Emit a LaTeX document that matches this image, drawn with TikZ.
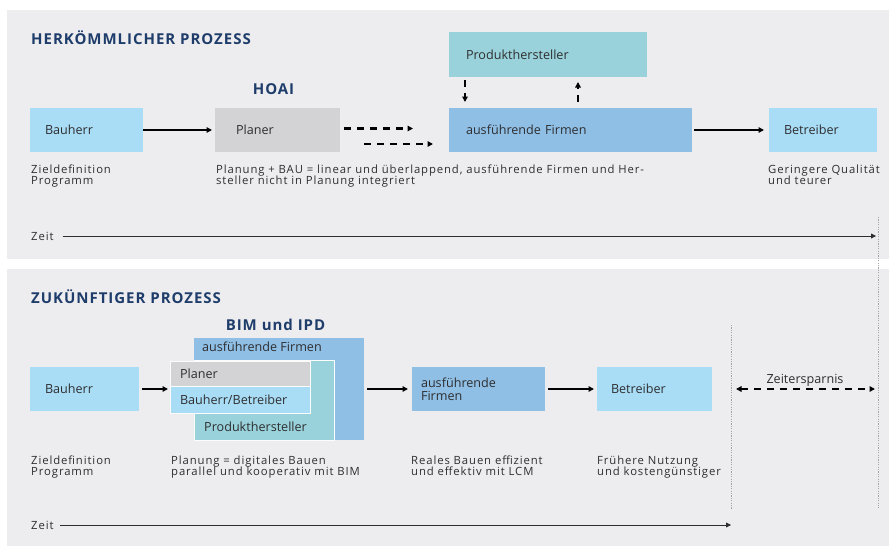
\documentclass[tikz,border=0pt]{standalone}
\usepackage{fontspec}
\setmainfont{Open Sans}
\newfontfamily\descfam[LetterSpace=8]{Open Sans}
\newfontfamily\titlefam[LetterSpace=6.5]{Open Sans}
\usetikzlibrary{arrows.meta,calc}

\definecolor{panel}{HTML}{EDEDEF}
\definecolor{lblue}{HTML}{A9DDF6}
\definecolor{mblue}{HTML}{8FBFE5}
\definecolor{teal}{HTML}{99D2DA}
\definecolor{lgray}{HTML}{D3D3D5}
\definecolor{titleblue}{HTML}{1F3D6B}
\definecolor{txt}{HTML}{2E2E30}

\newcommand{\bodyfont}{\descfam\fontsize{11.3}{10.5}\selectfont\lineskiplimit=-20pt\relax}
\newcommand{\boxfont}{\fontsize{12.6}{13}\selectfont}

\tikzset{
  bx/.style={anchor=north west, align=left, inner ysep=0pt, outer sep=0pt,
    text=txt, font=\boxfont},
  desc/.style={anchor=north west, align=left, inner sep=0pt, text=txt,
    font=\bodyfont},
  ttl/.style={anchor=base west, inner sep=0pt, text=titleblue,
    font=\titlefam\fontsize{15}{16}\selectfont\bfseries},
  sub/.style={anchor=base, inner sep=0pt, text=titleblue,
    font=\titlefam\fontsize{15}{16}\selectfont\bfseries},
  flow/.style={line width=1.8pt, -{Triangle[length=5.5pt,width=5.5pt]}},
  dflow/.style={line width=2.2pt, dash pattern=on 7pt off 6pt,
    -{Triangle[length=5.5pt,width=5.5pt]}},
  timeline/.style={line width=0.8pt, draw=txt, -{Triangle[length=5pt,width=5pt]}},
  marker/.style={line width=1pt, draw=gray!70, dash pattern=on 1.2pt off 1.2pt},
  nest/.style={draw=white!85!panel, line width=0.9pt}
}

\begin{document}
\begin{tikzpicture}[x=1pt,y=-1pt]
\useasboundingbox (0,0) rectangle (889,546);
\fill[white] (0,0) rectangle (889,546);

% the two panels
\fill[panel] (7,10) rectangle (889,259);
\fill[panel] (7,269) rectangle (889,546);

% ---------------- conventional process ----------------
\node[ttl] (t1) at (31,44) {HERKÖMMLICHER PROZESS};
\node[sub] (hoai) at (273.5,94) {HOAI};

\node[bx, fill=lblue, minimum height=44pt, text width=83pt, inner xsep=15pt] (bh1) at (30,108) {Bauherr};
\node[bx, fill=lgray, minimum height=44pt, text width=83pt, inner xsep=21pt] (pl1) at (215,108) {Planer};
\node[bx, fill=mblue, minimum height=44pt, text width=209pt, inner xsep=17pt] (af1) at (449,108) {ausführende Firmen};
\node[bx, fill=teal, minimum height=45pt, text width=164pt, inner xsep=17pt] (ph1) at (449,32) {Produkthersteller};
\node[bx, fill=lblue, minimum height=44pt, text width=78pt, inner xsep=15pt] (be1) at (769,108) {Betreiber};

\draw[flow] (bh1.east) -- ([xshift=-3pt]pl1.west);
\draw[dflow] ($(pl1.east)+(4,-1.5)$) -- ($(af1.west)+(-36,-1.5)$);
\draw[dflow] ($(pl1.east)+(24,14)$) -- ($(af1.west)+(-16,14)$);
\draw[dflow] ($(ph1.south west)+(16,3)$) -- ($(af1.north west)+(16,-6)$);
\draw[dflow] ($(af1.north west)+(129,-6)$) -- ($(ph1.south west)+(129,5)$);
\draw[flow] ([xshift=2pt]af1.east) -- ([xshift=-5pt]be1.west);

\node[desc] (d1) at (31,165) {Zieldefinition\\Programm};
\node[desc] (d2) at (216,165) {Planung + BAU = linear und überlappend, ausführende Firmen und Her-\\steller nicht in Planung integriert};
\node[desc] (d3) at (768,165) {Geringere Qualität\\und teurer};

\node[desc, anchor=west] (z1) at (31,236) {Zeit};
\coordinate (z1end) at (876,236);
\draw[timeline] ([xshift=9pt]z1.east) -- (z1end);

% ---------------- future process ----------------
\node[ttl] (t2) at (31,303) {ZUKÜNFTIGER PROZESS};
\node[sub] (bim) at (275.5,330) {BIM und IPD};

\node[bx, fill=lblue, minimum height=44pt, text width=79pt, inner xsep=15pt] (bh2) at (30,367) {Bauherr};

% nested planning block
\node[anchor=north west, fill=mblue, minimum width=170pt, minimum height=102pt, inner sep=0pt] (af2) at (194,338) {};
\node[anchor=north west, inner sep=0pt, text=txt, font=\boxfont] (af2t) at ($(af2.north west)+(8,4)$) {ausführende Firmen};
\node[anchor=north west, fill=teal, nest, minimum width=140pt, minimum height=80pt, inner sep=0pt] (ph2) at (194,360) {};
\node[anchor=south west, inner sep=0pt, text=txt, font=\boxfont] (ph2t) at ($(ph2.south west)+(10,-9)$) {Produkthersteller};
\node[bx, fill=lgray, nest, minimum height=25pt, text width=120pt, inner xsep=10pt] (pl2) at (170,361) {Planer};
\node[bx, fill=lblue, nest, minimum height=27pt, text width=120pt, inner xsep=10pt] (bb2) at (170,386) {Bauherr/Betreiber};

\node[bx, fill=mblue, minimum height=44pt, text width=115pt, inner xsep=9pt, font=\fontsize{12.6}{13.5}\selectfont] (af3) at (412,367) {ausführende\\Firmen};
\node[bx, fill=lblue, minimum height=44pt, text width=87pt, inner xsep=14pt] (be2) at (597,367) {Betreiber};

\draw[flow] ([xshift=3pt]bh2.east) -- ([xshift=-2pt]bb2.west |- bh2.east);
\draw[flow] ([xshift=3pt]af2.east |- af3.west) -- ([xshift=-4pt]af3.west);
\draw[flow] ([xshift=3pt]af3.east) -- ([xshift=-3pt]be2.west);

\node[desc] (d4) at (31,456) {Zieldefinition\\Programm};
\node[desc] (d5) at (171,456) {Planung = digitales Bauen\\parallel und kooperativ mit BIM};
\node[desc] (d6) at (411,456) {Reales Bauen effizient\\und effektiv mit LCM};
\node[desc] (d7) at (597,456) {Frühere Nutzung\\und kostengünstiger};

\node[desc, anchor=west] (z2) at (31,525) {Zeit};
\coordinate (z2end) at (731,525);
\draw[timeline] ([xshift=6pt]z2.east) -- (z2end);

% time saving between the two end points
\coordinate (m1top) at (878,217);
\coordinate (m1bot) at (878,508);
\coordinate (m2top) at (731,325);
\coordinate (m2bot) at (731,509);
\draw[marker] (m1top) -- (m1bot);
\draw[marker] (m2top) -- (m2bot);

\coordinate (zsl) at (736,389);
\coordinate (zsr) at (875,389);
\draw[line width=2.2pt, dash pattern=on 7pt off 6pt,
  {Triangle[length=5.5pt,width=5.5pt]}-{Triangle[length=5.5pt,width=5.5pt]}] (zsl) -- (zsr);
\node[anchor=base, inner sep=0pt, text=txt, font=\boxfont] (zs) at (805,383) {Zeitersparnis};
\end{tikzpicture}
\end{document}
